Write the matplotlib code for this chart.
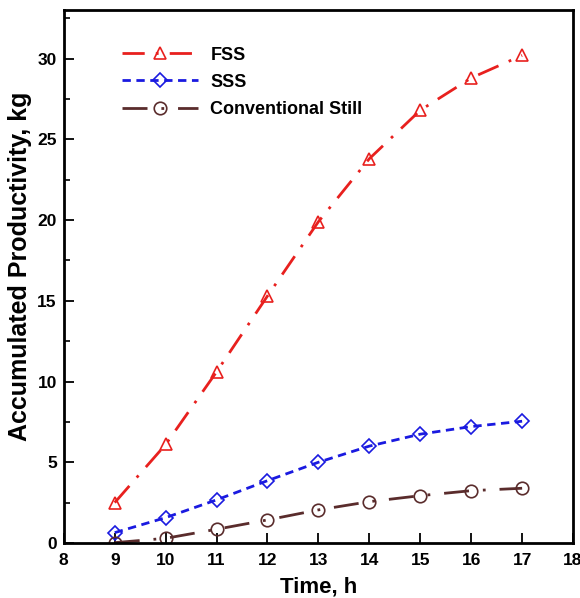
import matplotlib.pyplot as plt
from matplotlib.ticker import MultipleLocator

plt.rcParams['font.family'] = ['Liberation Sans', 'DejaVu Sans']
plt.rcParams['font.weight'] = 'bold'

hours = [9, 10, 11, 12, 13, 14, 15, 16, 17]
fss = [2.5, 6.1, 10.6, 15.3, 19.9, 23.8, 26.8, 28.8, 30.2]
sss = [0.64, 1.57, 2.67, 3.86, 5.0, 6.0, 6.74, 7.21, 7.54]
conventional = [0.02, 0.29, 0.85, 1.43, 2.05, 2.56, 2.93, 3.24, 3.39]

fig = plt.figure(figsize=(5.8, 5.98), dpi=100)
ax = fig.add_axes([0.110, 0.092, 0.878, 0.891])

ax.plot(hours, fss, color='#e8201e', lw=2, ls=(0, (8, 4, 1, 4)),
        marker='^', ms=8.5, mfc='none', mec='#e8201e', mew=1.2, label='FSS')
ax.plot(hours, sss, color='#1a1ae0', lw=2, ls=(0, (3, 2)),
        marker='D', ms=7, mfc='none', mec='#1a1ae0', mew=1.2, label='SSS')
ax.plot(hours, conventional, color='#5a2c2c', lw=2, ls=(0, (9, 5, 1, 5)),
        marker='o', ms=9, mfc='none', mec='#5a2c2c', mew=1.2, label='Conventional Still')

ax.set_xlim(8, 18)
ax.set_ylim(0, 33)
ax.xaxis.set_major_locator(MultipleLocator(1))
ax.yaxis.set_major_locator(MultipleLocator(5))
ax.yaxis.set_minor_locator(MultipleLocator(2.5))

ax.tick_params(axis='both', which='major', direction='in', length=7, width=1.3,
               labelsize=12.5, top=False, right=False)
ax.tick_params(axis='x', which='major', pad=7)
ax.tick_params(axis='y', which='major', pad=5)
ax.tick_params(axis='y', which='minor', direction='in', length=4, width=1.2)
for lbl in ax.get_xticklabels() + ax.get_yticklabels():
    lbl.set_fontweight('bold')
for sp in ax.spines.values():
    sp.set_linewidth(2)

ax.set_xlabel('Time, h', fontsize=16, fontweight='bold')
ax.set_ylabel('Accumulated Productivity, kg', fontsize=18, fontweight='bold')
ax.xaxis.set_label_coords(0.5, -0.062)
ax.yaxis.set_label_coords(-0.062, 0.52)

leg = ax.legend(loc='upper left', bbox_to_anchor=(0.10, 0.945), frameon=False,
                borderaxespad=0, handlelength=4.2, handletextpad=0.7,
                fontsize=13, labelspacing=0.56)
for t in leg.get_texts():
    t.set_fontweight('bold')

fig.savefig('out.png', dpi=100)
